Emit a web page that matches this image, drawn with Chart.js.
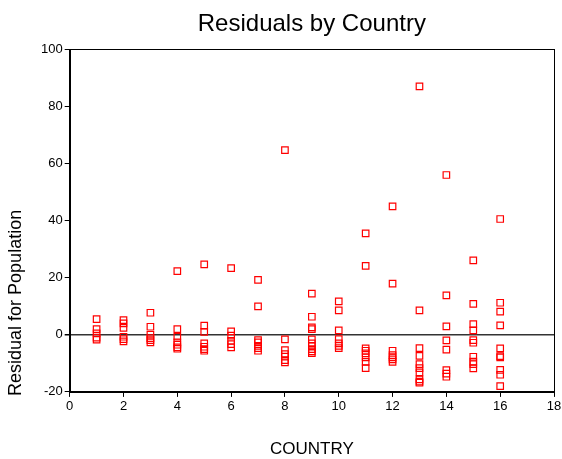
<!DOCTYPE html>
<html>
<head>
<meta charset="utf-8">
<script src="https://cdn.jsdelivr.net/npm/chart.js@4"></script>
<style>
  html, body { margin: 0; padding: 0; background: #fff; }
  #wrap { width: 562px; height: 459px; }
</style>
</head>
<body>
<div id="wrap"><canvas id="c" width="562" height="459"></canvas></div>
<script>
const chartTitle = "Residuals by Country";
const xTitle = "COUNTRY";
const yTitle = "Residual for Population";
const countryCodes = [1,2,3,4,5,6,7,8,9,10,11,12,13,14,15,16];
const residualsByCountry = [
  [5.5, 2.0, 0.5, -1.0, -1.7],
  [5.1, 4.0, 2.4, -0.7, -1.5, -2.3],
  [7.7, 2.8, 0.0, -1.2, -1.9, -2.7],
  [22.3, 2.0, -0.7, -2.7, -3.5, -4.4, -4.9],
  [24.6, 3.2, 1.0, -3.0, -4.2, -5.0, -5.6],
  [23.3, 1.2, -0.3, -2.1, -3.3, -4.4],
  [19.2, 9.9, -1.9, -2.7, -3.9, -4.7, -5.6],
  [64.6, -1.6, -5.4, -6.8, -7.7, -8.9, -9.7],
  [14.4, 6.3, 2.6, 2.0, -1.6, -3.0, -4.0, -5.0, -5.8, -6.4],
  [11.7, 8.5, 1.5, -1.5, -3.0, -3.9, -4.7],
  [35.5, 24.1, -4.8, -5.6, -6.5, -7.9, -9.5, -11.7],
  [44.9, 17.9, -5.6, -7.1, -7.9, -8.6, -9.5],
  [86.9, 8.5, -4.7, -7.4, -10.3, -11.7, -13.2, -15.6, -16.4, -16.8],
  [55.9, 13.8, 2.9, -2.0, -5.2, -12.4, -13.6, -14.7],
  [26.0, 10.8, 3.7, 1.5, -1.9, -2.8, -7.7, -9.4, -10.3, -11.8],
  [40.5, 11.2, 8.1, 3.3, -4.8, -7.5, -7.9, -12.3, -14.0, -18.0]
];
const xTicks = [0,2,4,6,8,10,12,14,16,18];
const yTicks = [-20,0,20,40,60,80,100];

const points = [];
countryCodes.forEach((c, i) => residualsByCountry[i].forEach(v => points.push({x: c, y: v})));

const font = "Arial, 'Liberation Sans', sans-serif";

const frame = {
  id: 'frame',
  afterDatasetsDraw(chart) {
    const {ctx, chartArea: a} = chart;
    ctx.save();
    ctx.strokeStyle = '#000';
    ctx.lineWidth = 1;
    ctx.strokeRect(Math.round(a.left) + 0.5, Math.round(a.top) + 0.5, Math.round(a.right - a.left), Math.round(a.bottom - a.top));
    ctx.restore();
  },
  afterDraw(chart) {
    const {ctx, chartArea: a} = chart;
    const cx = (a.left + a.right) / 2;
    ctx.save();
    ctx.fillStyle = '#000';
    ctx.textAlign = 'center';
    ctx.textBaseline = 'middle';
    ctx.font = "24px " + font;
    ctx.fillText(chartTitle, cx, 24);
    ctx.font = "17px " + font;
    ctx.fillText(xTitle, cx, a.bottom + 57.5);
    ctx.translate(16, a.bottom - 89);
    ctx.rotate(-Math.PI / 2);
    ctx.font = "18px " + font;
    ctx.fillText(yTitle, 0, 0);
    ctx.restore();
  }
};

new Chart(document.getElementById('c'), {
  type: 'scatter',
  data: {
    datasets: [{
      data: points,
      pointStyle: 'rect',
      radius: 4.6,
      hoverRadius: 4.6,
      borderColor: '#ff0000',
      backgroundColor: 'rgba(0,0,0,0)',
      borderWidth: 1.2
    }]
  },
  options: {
    responsive: false,
    animation: false,
    devicePixelRatio: 1,
    layout: { padding: { left: 39, right: 8, top: 49, bottom: 42.5 } },
    plugins: {
      legend: { display: false },
      tooltip: { enabled: false },
      title: { display: false }
    },
    scales: {
      x: {
        type: 'linear', min: 0, max: 18,
        afterBuildTicks: s => { s.ticks = xTicks.map(v => ({value: v})); },
        afterFit: s => { s.paddingRight = 0; s.paddingLeft = 0; },
        ticks: { color: '#000', font: { family: font, size: 13 }, padding: 2, maxRotation: 0 },
        grid: { color: 'rgba(0,0,0,0)', tickColor: '#000', tickLength: 5, drawOnChartArea: false },
        border: { color: '#000', width: 1 },
        title: { display: false }
      },
      y: {
        type: 'linear', min: -20, max: 100,
        afterBuildTicks: s => { s.ticks = yTicks.map(v => ({value: v})); },
        ticks: { color: '#000', font: { family: font, size: 13 }, padding: 2 },
        grid: {
          color: c => (c.tick && c.tick.value === 0) ? '#333' : 'rgba(0,0,0,0)',
          lineWidth: c => (c.tick && c.tick.value === 0) ? 1.5 : 1,
          tickColor: '#000', tickLength: 5
        },
        border: { color: '#000', width: 1 },
        title: { display: false }
      }
    }
  },
  plugins: [frame]
});
</script>
</body>
</html>
